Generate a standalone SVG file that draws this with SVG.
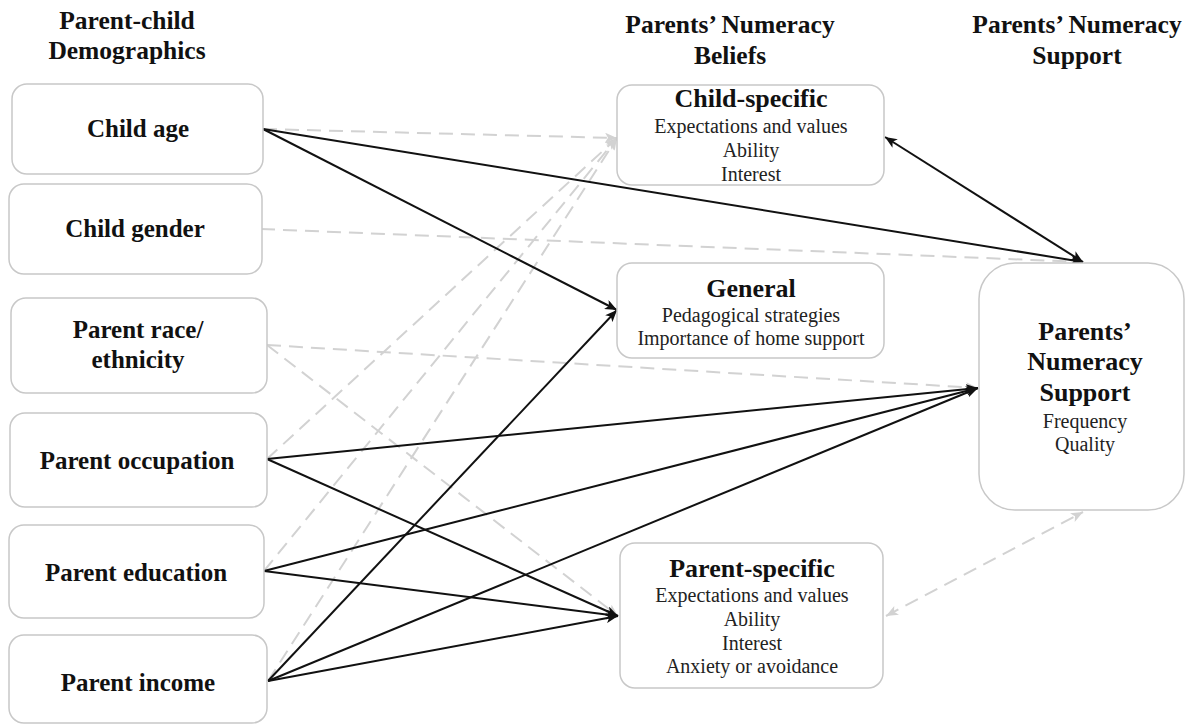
<svg xmlns="http://www.w3.org/2000/svg" width="1186" height="726" viewBox="0 0 1186 726">
<style>
.box{fill:#fff;stroke:#c8c8c8;stroke-width:1.5}
.hdr{font-family:"Liberation Serif","Times New Roman",serif;font-weight:bold;font-size:25.5px;fill:#111;text-anchor:middle}
.lbl{font-family:"Liberation Serif","Times New Roman",serif;font-weight:bold;font-size:25px;fill:#111;text-anchor:middle}
.ttl{font-family:"Liberation Serif","Times New Roman",serif;font-weight:bold;font-size:26px;fill:#111;text-anchor:middle}
.sub{font-family:"Liberation Serif","Times New Roman",serif;font-size:20px;fill:#222;text-anchor:middle}
.solid{stroke:#111;stroke-width:2;fill:none;marker-end:url(#ab)}
.dash{stroke:#d2d2d2;stroke-width:2;fill:none;stroke-dasharray:14 8;marker-end:url(#ag)}
</style>
<defs>
<marker id="ab" markerUnits="userSpaceOnUse" markerWidth="13" markerHeight="10" refX="12" refY="5" orient="auto-start-reverse"><path d="M0,0 L12,5 L0,10 L3,5 Z" fill="#111"/></marker>
<marker id="ag" markerUnits="userSpaceOnUse" markerWidth="13" markerHeight="10" refX="12" refY="5" orient="auto-start-reverse"><path d="M0,0 L12,5 L0,10 L3,5 Z" fill="#d2d2d2"/></marker>
</defs>
<rect width="1186" height="726" fill="#fff"/>
<g id="headers">
<text class="hdr" x="127" y="29">Parent-child</text>
<text class="hdr" x="127" y="59">Demographics</text>
<text class="hdr" x="730" y="33">Parents’ Numeracy</text>
<text class="hdr" x="730" y="64">Beliefs</text>
<text class="hdr" x="1077" y="33">Parents’ Numeracy</text>
<text class="hdr" x="1077" y="64">Support</text>
</g>
<g id="connectors">
<line class="dash" x1="263" y1="129" x2="617" y2="138"/>
<line class="dash" x1="261" y1="229" x2="1083" y2="262"/>
<line class="dash" x1="267" y1="345" x2="978" y2="388"/>
<line class="dash" x1="267" y1="345" x2="618" y2="616"/>
<line class="dash" x1="267" y1="459" x2="617" y2="138"/>
<line class="dash" x1="264" y1="571" x2="617" y2="138"/>
<line class="dash" x1="268" y1="681" x2="617" y2="138"/>
<line class="dash" x1="886" y1="616" x2="1083" y2="512" style="marker-start:url(#ag)"/>
<line class="solid" x1="263" y1="129" x2="1083" y2="262"/>
<line class="solid" x1="263" y1="129" x2="617" y2="310"/>
<line class="solid" x1="885" y1="137" x2="1083" y2="262" style="marker-start:url(#ab)"/>
<line class="solid" x1="267" y1="459" x2="978" y2="388"/>
<line class="solid" x1="267" y1="459" x2="618" y2="616"/>
<line class="solid" x1="264" y1="571" x2="978" y2="388"/>
<line class="solid" x1="264" y1="571" x2="618" y2="616"/>
<line class="solid" x1="268" y1="681" x2="617" y2="310"/>
<line class="solid" x1="268" y1="681" x2="978" y2="388"/>
<line class="solid" x1="268" y1="681" x2="618" y2="616"/>
</g>
<g id="child-age"><rect class="box" x="12" y="84" width="251" height="90" rx="15"/><text class="lbl" x="138" y="137">Child age</text></g>
<g id="child-gender"><rect class="box" x="9" y="184" width="253" height="90" rx="15"/><text class="lbl" x="135" y="237">Child gender</text></g>
<g id="parent-race"><rect class="box" x="11" y="298" width="256" height="95" rx="15"/><text class="lbl" x="138" y="338">Parent race/</text><text class="lbl" x="138" y="368">ethnicity</text></g>
<g id="parent-occupation"><rect class="box" x="10" y="413" width="257" height="94" rx="15"/><text class="lbl" x="137" y="469">Parent occupation</text></g>
<g id="parent-education"><rect class="box" x="9" y="525" width="255" height="93" rx="15"/><text class="lbl" x="136" y="581">Parent education</text></g>
<g id="parent-income"><rect class="box" x="9" y="635" width="258" height="88" rx="15"/><text class="lbl" x="138" y="691">Parent income</text></g>
<g id="child-specific"><rect class="box" x="617" y="85" width="267" height="100" rx="15"/><text class="ttl" x="751" y="107">Child-specific</text><text class="sub" x="751" y="133">Expectations and values</text><text class="sub" x="751" y="157">Ability</text><text class="sub" x="751" y="181">Interest</text></g>
<g id="general"><rect class="box" x="617" y="263" width="267" height="95" rx="15"/><text class="ttl" x="751" y="297">General</text><text class="sub" x="751" y="322">Pedagogical strategies</text><text class="sub" x="751" y="345">Importance of home support</text></g>
<g id="parent-specific"><rect class="box" x="620" y="543" width="263" height="145" rx="15"/><text class="ttl" x="752" y="577">Parent-specific</text><text class="sub" x="752" y="602">Expectations and values</text><text class="sub" x="752" y="626">Ability</text><text class="sub" x="752" y="650">Interest</text><text class="sub" x="752" y="673">Anxiety or avoidance</text></g>
<g id="numeracy-support"><rect class="box" x="979" y="263" width="205" height="247" rx="36"/><text class="ttl" x="1085" y="340">Parents’</text><text class="ttl" x="1085" y="370">Numeracy</text><text class="ttl" x="1085" y="401">Support</text><text class="sub" x="1085" y="428">Frequency</text><text class="sub" x="1085" y="451">Quality</text></g>
</svg>
